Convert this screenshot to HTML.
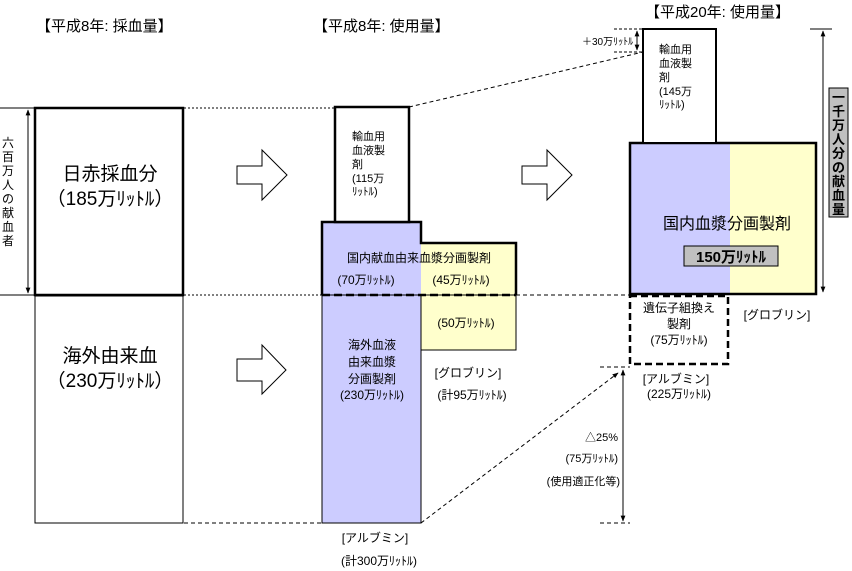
<!DOCTYPE html>
<html><head><meta charset="utf-8"><style>
html,body{margin:0;padding:0;background:#fff;width:852px;height:571px;overflow:hidden}
svg text{font-family:"Liberation Sans","Noto Sans CJK JP",sans-serif;fill:#000}
</style></head><body>
<svg width="852" height="571" viewBox="0 0 852 571" xmlns="http://www.w3.org/2000/svg">
<defs>
<marker id="ah" viewBox="0 0 10 10" refX="9" refY="5" markerWidth="6" markerHeight="6" orient="auto-start-reverse"><path d="M0,1 L10,5 L0,9 z" fill="#000"/></marker>
</defs>
<text x="36" y="31" font-size="15">【平成8年: 採血量】</text>
<text x="313" y="31" font-size="15">【平成8年: 使用量】</text>
<text x="645" y="17" font-size="15">【平成20年: 使用量】</text>

<line x1="0" y1="108" x2="34" y2="108" stroke="#000"/>
<line x1="0" y1="295" x2="34" y2="295" stroke="#000"/>
<line x1="28" y1="110" x2="28" y2="293" stroke="#000" marker-start="url(#ah)" marker-end="url(#ah)"/>
<text font-size="12" x="2" y="147">六</text>
<text font-size="12" x="2" y="161">百</text>
<text font-size="12" x="2" y="175">万</text>
<text font-size="12" x="2" y="189">人</text>
<text font-size="12" x="2" y="203">の</text>
<text font-size="12" x="2" y="217">献</text>
<text font-size="12" x="2" y="231">血</text>
<text font-size="12" x="2" y="245">者</text>

<rect x="35" y="108" width="148" height="187" fill="#fff" stroke="#000" stroke-width="2.5"/>
<rect x="35" y="296" width="148" height="227" fill="#fff" stroke="#000" stroke-width="1"/>
<text x="110" y="180" font-size="19" text-anchor="middle">日赤採血分</text>
<text x="110" y="205" font-size="19" text-anchor="middle">（185万ﾘｯﾄﾙ）</text>
<text x="110" y="362" font-size="19" text-anchor="middle">海外由来血</text>
<text x="110" y="387" font-size="19" text-anchor="middle">（230万ﾘｯﾄﾙ）</text>

<line x1="184" y1="108" x2="335" y2="108" stroke="#000" stroke-dasharray="2,2"/>
<line x1="184" y1="295" x2="322" y2="295" stroke="#000" stroke-dasharray="2,2"/>
<line x1="184" y1="523" x2="322" y2="523" stroke="#000" stroke-dasharray="4,3"/>
<line x1="516" y1="295" x2="630" y2="295" stroke="#000" stroke-dasharray="4,3"/>
<line x1="409" y1="107" x2="643" y2="52" stroke="#000" stroke-dasharray="4,3"/>
<line x1="421" y1="523" x2="618" y2="373" stroke="#000" stroke-dasharray="4,3" marker-end="url(#ah)"/>

<g fill="#fff" stroke="#000">
<path d="M237,166 H262 V150 L287,175 L262,200 V184 H237 Z"/>
<path d="M237,359 H262 V345 L286,370 L262,394 V381 H237 Z"/>
<path d="M522,166 H547 V150 L572,175 L547,200 V184 H522 Z"/>
</g>

<rect x="322" y="222" width="99" height="301" fill="#ccccff"/>
<rect x="421" y="243" width="95" height="107" fill="#ffffcc"/>
<rect x="322" y="295" width="99" height="228" fill="none" stroke="#000"/>
<rect x="421" y="295" width="95" height="55" fill="none" stroke="#000"/>
<path d="M322,295 V222 H421 V243 H516 V295" fill="none" stroke="#000" stroke-width="2.5"/>
<line x1="322" y1="295" x2="516" y2="295" stroke="#000" stroke-width="2.5" stroke-dasharray="8,4"/>
<rect x="335" y="107" width="74" height="115" fill="#fff" stroke="#000" stroke-width="2.5"/>
<g font-size="11">
<text x="352" y="140">輸血用</text>
<text x="352" y="154">血液製</text>
<text x="352" y="168">剤</text>
<text x="352" y="182">(115万</text>
<text x="352" y="195">ﾘｯﾄﾙ)</text>
</g>
<text x="419" y="262" font-size="12" text-anchor="middle">国内献血由来血漿分画製剤</text>
<text x="366" y="284" font-size="12" text-anchor="middle">(70万ﾘｯﾄﾙ)</text>
<text x="461" y="284" font-size="12" text-anchor="middle">(45万ﾘｯﾄﾙ)</text>
<text x="466" y="327" font-size="12" text-anchor="middle">(50万ﾘｯﾄﾙ)</text>
<g font-size="12" text-anchor="middle">
<text x="372" y="349">海外血液</text>
<text x="372" y="366">由来血漿</text>
<text x="372" y="383">分画製剤</text>
<text x="372" y="399">(230万ﾘｯﾄﾙ)</text>
<text x="468" y="377">[グロブリン]</text>
<text x="472" y="399">(計95万ﾘｯﾄﾙ)</text>
<text x="375" y="542">[アルブミン]</text>
<text x="379" y="565">(計300万ﾘｯﾄﾙ)</text>
</g>

<rect x="630" y="143" width="100" height="151" fill="#ccccff"/>
<rect x="730" y="143" width="86" height="151" fill="#ffffcc"/>
<rect x="630" y="143" width="186" height="151" fill="none" stroke="#000" stroke-width="2.5"/>
<rect x="643" y="29" width="73" height="114" fill="#fff" stroke="#000" stroke-width="2"/>
<g font-size="11">
<text x="659" y="53">輸血用</text>
<text x="659" y="67">血液製</text>
<text x="659" y="81">剤</text>
<text x="659" y="95">(145万</text>
<text x="659" y="108">ﾘｯﾄﾙ)</text>
</g>
<text x="727" y="229" font-size="16" text-anchor="middle">国内血漿分画製剤</text>
<rect x="684" y="246" width="94" height="20" fill="#c0c0c0" stroke="#000"/>
<text x="731" y="262" font-size="15" text-anchor="middle" font-weight="bold">150万ﾘｯﾄﾙ</text>
<rect x="630" y="296" width="98" height="68" fill="none" stroke="#000" stroke-width="2.5" stroke-dasharray="7,4"/>
<g font-size="12" text-anchor="middle">
<text x="679" y="312">遺伝子組換え</text>
<text x="679" y="328">製剤</text>
<text x="679" y="344">(75万ﾘｯﾄﾙ)</text>
<text x="777" y="319">[グロブリン]</text>
<text x="676" y="383">[アルブミン]</text>
<text x="679" y="398">(225万ﾘｯﾄﾙ)</text>
</g>

<text x="582" y="45" font-size="10">＋30万ﾘｯﾄﾙ</text>
<line x1="614" y1="29" x2="643" y2="29" stroke="#000" stroke-dasharray="3,2"/>
<line x1="614" y1="52" x2="643" y2="52" stroke="#000" stroke-dasharray="3,2"/>
<line x1="637" y1="31" x2="637" y2="50" stroke="#000" marker-start="url(#ah)" marker-end="url(#ah)"/>

<line x1="810" y1="29" x2="832" y2="29" stroke="#000"/>
<line x1="823" y1="31" x2="823" y2="292" stroke="#000" marker-start="url(#ah)" marker-end="url(#ah)"/>
<rect x="829" y="88" width="19" height="129" fill="#c0c0c0" stroke="#000"/>
<g font-size="13" font-weight="bold" text-anchor="middle">
<text x="838.5" y="102">一</text>
<text x="838.5" y="116">千</text>
<text x="838.5" y="130">万</text>
<text x="838.5" y="144">人</text>
<text x="838.5" y="158">分</text>
<text x="838.5" y="172">の</text>
<text x="838.5" y="186">献</text>
<text x="838.5" y="200">血</text>
<text x="838.5" y="214">量</text>
</g>

<line x1="600" y1="367" x2="630" y2="367" stroke="#000" stroke-dasharray="4,3"/>
<line x1="600" y1="523" x2="630" y2="523" stroke="#000" stroke-dasharray="4,3"/>
<line x1="623" y1="370" x2="623" y2="521" stroke="#000" marker-start="url(#ah)" marker-end="url(#ah)"/>
<g font-size="11" text-anchor="end">
<text x="618" y="441">△25%</text>
<text x="618" y="462">(75万ﾘｯﾄﾙ)</text>
<text x="620" y="485">(使用適正化等)</text>
</g>
</svg>
</body></html>
